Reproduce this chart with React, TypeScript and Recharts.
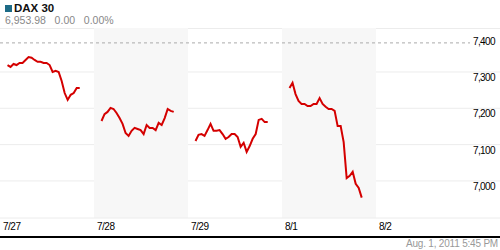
import React from "react";
import {
  LineChart,
  Line,
  XAxis,
  YAxis,
  CartesianGrid,
  ReferenceArea,
  ReferenceLine,
} from "recharts";

// intraday DAX 30 prices, one array per session
const day0727 = [7319, 7314, 7322, 7319, 7325, 7325, 7333, 7341, 7339, 7333, 7328, 7328, 7325, 7325, 7319, 7300, 7303, 7300, 7275, 7242, 7223, 7237, 7242, 7256, 7256];
const day0728 = [7165, 7184, 7190, 7201, 7198, 7187, 7173, 7157, 7132, 7124, 7138, 7146, 7143, 7140, 7129, 7154, 7146, 7146, 7140, 7160, 7154, 7173, 7198, 7193, 7190];
const day0729 = [7110, 7127, 7129, 7124, 7140, 7157, 7138, 7138, 7140, 7129, 7116, 7121, 7129, 7129, 7121, 7094, 7105, 7080, 7096, 7116, 7129, 7168, 7171, 7162, 7162];
const day0801 = [7256, 7270, 7239, 7220, 7212, 7212, 7206, 7206, 7212, 7212, 7228, 7212, 7204, 7198, 7198, 7193, 7151, 7151, 7107, 7008, 7014, 7025, 6992, 6981, 6954];

const sessions = [day0727, day0728, day0729, day0801];
const dayLabels = ["7/27", "7/28", "7/29", "8/1", "8/2"];
const dayTicks = [0, 1, 2, 3, 4];
const yTicks = [7000, 7100, 7200, 7300, 7400];
const gridValues = [7000, 7100, 7200, 7300];
const prevClose = 7380;
const shadedDays = [1, 3];

// session opens ~8% into the day slot, samples about every 45 minutes
const OPEN = 0.08;
const STEP = 0.032;

const data: { t: number; price: number | null }[] = [];
sessions.forEach((vals, d) => {
  vals.forEach((v, i) => data.push({ t: d + OPEN + i * STEP, price: v }));
  data.push({ t: d + 0.95, price: null });
});

const font = '"Liberation Sans", Arial, sans-serif';

function XTick({ x, y, payload }: any) {
  return (
    <text x={x + 3} y={y + 4} textAnchor="start" fontSize={10} fill="#000" fontFamily={font} letterSpacing={-0.5}>
      {dayLabels[payload.value]}
    </text>
  );
}

function YTick({ y, payload }: any) {
  return (
    <text x={495} y={y + 9} textAnchor="end" fontSize={10} fill="#000" fontFamily={font} letterSpacing={-0.6}>
      {payload.value.toLocaleString("en-US")}
    </text>
  );
}

export default function App() {
  return (
    <div style={{ position: "absolute", left: 0, top: 0, width: 500, height: 250, background: "#fff", fontFamily: font }}>
      <div style={{ position: "absolute", left: 5, top: 5, width: 7, height: 7, background: "#1d6b86" }} />
      <div style={{ position: "absolute", left: 14, top: 2, fontSize: 11.5, fontWeight: "bold", color: "#111" }}>DAX 30</div>
      <div style={{ position: "absolute", left: 5, top: 14, fontSize: 10.5, color: "#888", whiteSpace: "pre" }}>
        {"6,953.98   0.00   0.00%"}
      </div>
      <div style={{ position: "absolute", left: 0, top: 28, width: 500, height: 1, background: "#ececec" }} />

      <LineChart width={500} height={250} data={data} margin={{ top: 28, right: 0, bottom: 0, left: 0 }}>
        {shadedDays.map((d) => (
          <ReferenceArea key={d} x1={d} x2={d + 1} fill="#f7f7f7" fillOpacity={1} stroke="none" ifOverflow="hidden" />
        ))}
        <CartesianGrid vertical={false} horizontalValues={gridValues} stroke="#ececec" />
        <XAxis
          type="number"
          dataKey="t"
          domain={[0, (5 * 500) / 470]}
          ticks={dayTicks}
          interval={0}
          tick={<XTick />}
          axisLine={{ stroke: "#ececec" }}
          tickLine={false}
          height={32}
          allowDataOverflow
        />
        <YAxis
          orientation="right"
          mirror
          domain={[6898, 7421]}
          ticks={yTicks}
          tick={<YTick />}
          axisLine={false}
          tickLine={false}
          allowDataOverflow
        />
        <ReferenceLine
          segment={[{ x: 0, y: prevClose }, { x: 5, y: prevClose }]}
          stroke="#aaa"
          strokeDasharray="3 3"
        />
        <Line
          type="linear"
          dataKey="price"
          stroke="#d40000"
          strokeWidth={2}
          dot={false}
          connectNulls={false}
          isAnimationActive={false}
        />
      </LineChart>

      <div style={{ position: "absolute", left: 0, top: 236, width: 500, height: 2, background: "#000" }} />
      <div style={{ position: "absolute", right: 2, top: 238, fontSize: 10, color: "#999", letterSpacing: -0.2 }}>
        Aug. 1, 2011 5:45 PM
      </div>
    </div>
  );
}
